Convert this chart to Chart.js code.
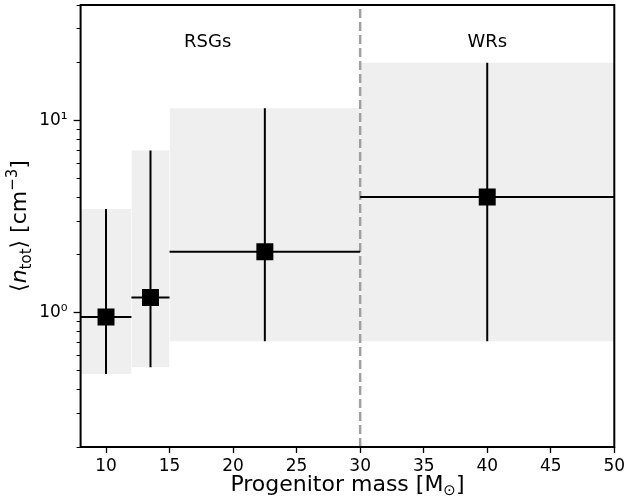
<!DOCTYPE html>
<html>
<head>
<meta charset="utf-8">
<script src="https://cdn.jsdelivr.net/npm/chart.js@4.4.1/dist/chart.umd.min.js"></script>
<style>
  html, body { margin: 0; padding: 0; background: #fff; }
  #wrap { width: 627px; height: 504px; }
</style>
</head>
<body>
<div id="wrap"><canvas id="chart"></canvas></div>
<script>
// --- values ---
var masses = [10, 13.5, 22.5, 40];
var massLo = [8, 12, 15, 30];
var massHi = [12, 15, 30, 50];
var density = [0.95, 1.2, 2.08, 4.0];
var densityLo = [0.48, 0.52, 0.71, 0.71];
var densityHi = [3.47, 7.0, 11.6, 20.0];

var dividerMass = 30;
var regionNames = ["RSGs", "WRs"];
var regionMass = [18, 40];
var regionDensity = [25.5, 25.5];

var xRange = [8, 50];
var yRange = [0.2, 40];
var xTicks = [10, 15, 20, 25, 30, 35, 40, 45, 50];
var yMajorTicks = [1, 10];
var yMajorLabels = ["10\u2070", "10\u00b9"];
var yMinorTicks = [0.2, 0.3, 0.4, 0.5, 0.6, 0.7, 0.8, 0.9, 2, 3, 4, 5, 6, 7, 8, 9, 20, 30, 40];

var FONT = '"DejaVu Sans", sans-serif';

// --- helpers ---
function segment(points, color, width, dash) {
  return {
    data: points,
    showLine: true,
    fill: false,
    borderColor: color,
    borderWidth: width,
    borderDash: dash || [],
    pointRadius: 0,
    pointHoverRadius: 0,
    tension: 0
  };
}

function drawRich(ctx, parts, x, y) {
  var total = 0;
  parts.forEach(function (p) {
    ctx.font = p.font;
    p.w = ctx.measureText(p.text).width;
    total += p.w;
  });
  var cx = x - total / 2;
  ctx.textAlign = "left";
  ctx.textBaseline = "alphabetic";
  parts.forEach(function (p) {
    ctx.font = p.font;
    ctx.fillText(p.text, cx, y + (p.dy || 0));
    cx += p.w;
  });
}

function noPadding(s) {
  s.paddingTop = 0;
  s.paddingBottom = 0;
  s.paddingLeft = 0;
  s.paddingRight = 0;
}

// --- datasets (first in list is drawn on top) ---
var datasets = [];

datasets.push({
  data: masses.map(function (m, i) { return { x: m, y: density[i] }; }),
  showLine: false,
  pointStyle: "rect",
  pointRadius: 12,
  pointHoverRadius: 12,
  backgroundColor: "#000",
  borderWidth: 0
});

masses.forEach(function (m, i) {
  datasets.push(segment([{ x: massLo[i], y: density[i] }, { x: massHi[i], y: density[i] }], "#000", 2));
  datasets.push(segment([{ x: m, y: densityLo[i] }, { x: m, y: densityHi[i] }], "#000", 2));
});

datasets.push(segment([{ x: dividerMass, y: yRange[0] }, { x: dividerMass, y: yRange[1] }], "#a0a0a0", 2.5, [9, 4]));

// shaded ranges: upper edge filled down to the lower edge
masses.forEach(function (m, i) {
  var upper = segment([{ x: massLo[i], y: densityHi[i] }, { x: massHi[i], y: densityHi[i] }], "transparent", 0);
  upper.fill = "+1";
  upper.backgroundColor = "#efefef";
  datasets.push(upper);
  datasets.push(segment([{ x: massLo[i], y: densityLo[i] }, { x: massHi[i], y: densityLo[i] }], "transparent", 0));
});

// --- frame, region names and axis titles ---
var decorations = {
  id: "decorations",
  afterDatasetsDraw: function (chart) {
    var ctx = chart.ctx;
    var a = chart.chartArea;
    var xs = chart.scales.x;
    var ys = chart.scales.y;
    ctx.save();

    ctx.strokeStyle = "#000";
    ctx.lineWidth = 2;
    ctx.strokeRect(a.left, a.top, a.right - a.left, a.bottom - a.top);

    ctx.fillStyle = "#000";
    ctx.font = "18px " + FONT;
    ctx.textAlign = "center";
    ctx.textBaseline = "middle";
    regionNames.forEach(function (name, i) {
      ctx.fillText(name, xs.getPixelForValue(regionMass[i]), ys.getPixelForValue(regionDensity[i]));
    });

    var big = "22px " + FONT;
    var small = "15px " + FONT;
    drawRich(ctx, [
      { text: "Progenitor mass [M", font: big },
      { text: "\u2299", font: small, dy: 4 },
      { text: "]", font: big }
    ], (a.left + a.right) / 2, 491);

    ctx.translate(26, (a.top + a.bottom) / 2);
    ctx.rotate(-Math.PI / 2);
    drawRich(ctx, [
      { text: "\u27e8", font: big },
      { text: "n", font: "italic " + big },
      { text: "tot", font: small, dy: 5 },
      { text: "\u27e9 [cm", font: big },
      { text: "\u22123", font: small, dy: -9 },
      { text: "]", font: big }
    ], 0, 0);

    ctx.restore();
  }
};

new Chart(document.getElementById("chart"), {
  type: "line",
  data: { datasets: datasets },
  plugins: [decorations],
  options: {
    responsive: true,
    maintainAspectRatio: false,
    animation: false,
    events: [],
    layout: { autoPadding: false, padding: { top: 5, right: 12.7, left: 0, bottom: 0 } },
    plugins: {
      legend: { display: false },
      tooltip: { enabled: false }
    },
    scales: {
      x: {
        type: "linear",
        min: xRange[0],
        max: xRange[1],
        afterBuildTicks: function (s) {
          s.ticks = xTicks.map(function (v) { return { value: v }; });
        },
        afterFit: function (s) { s.height = 57; noPadding(s); },
        ticks: {
          font: { family: FONT, size: 17 },
          color: "#000",
          padding: 3,
          maxRotation: 0,
          autoSkip: false
        },
        grid: { drawOnChartArea: false, tickLength: 6, tickColor: "#000", tickWidth: 1.3 },
        border: { display: false }
      },
      y: {
        type: "logarithmic",
        position: "left",
        weight: 1,
        min: yRange[0],
        max: yRange[1],
        afterBuildTicks: function (s) {
          s.ticks = yMajorTicks.map(function (v) { return { value: v }; });
        },
        afterFit: function (s) { s.width = 80.6; noPadding(s); },
        ticks: {
          font: { family: FONT, size: 17 },
          color: "#000",
          padding: 6,
          autoSkip: false,
          callback: function (v) {
            var k = yMajorTicks.indexOf(v);
            return k >= 0 ? yMajorLabels[k] : "";
          }
        },
        grid: { drawOnChartArea: false, tickLength: 7, tickColor: "#000", tickWidth: 1.3 },
        border: { display: false }
      },
      yMinor: {
        type: "logarithmic",
        position: "left",
        weight: 0,
        min: yRange[0],
        max: yRange[1],
        afterBuildTicks: function (s) {
          s.ticks = yMinorTicks.map(function (v) { return { value: v }; });
        },
        afterFit: function (s) { s.width = 0; noPadding(s); },
        ticks: { display: false, autoSkip: false },
        grid: { drawOnChartArea: false, tickLength: 4, tickColor: "#000", tickWidth: 1 },
        border: { display: false }
      }
    }
  }
});
</script>
</body>
</html>
